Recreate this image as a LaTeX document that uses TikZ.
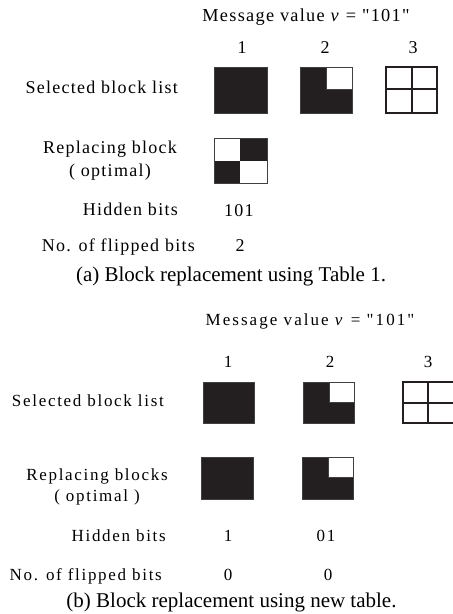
\documentclass[tikz,border=0pt]{standalone}
\usepackage{fontspec}
\setmainfont{Liberation Serif}
\newfontfamily\trackA[LetterSpace=7]{Liberation Serif}
\newfontfamily\trackB[LetterSpace=10]{Liberation Serif}
\newfontfamily\trackC[LetterSpace=12]{Liberation Serif}
\definecolor{blk}{RGB}{35,31,32}
\tikzset{
  lblA/.style={font=\fontsize{18}{23}\trackA, inner sep=0pt, anchor=mid east},
  lblB/.style={font=\fontsize{17}{22}\trackB, inner sep=0pt, anchor=mid east},
  txtA/.style={font=\fontsize{18}{23}\trackA, inner sep=0pt, anchor=mid},
  txtB/.style={font=\fontsize{17}{22}\trackB, inner sep=0pt, anchor=mid},
  capt/.style={font=\fontsize{21}{24}\selectfont, inner sep=0pt, anchor=mid},
  solid block/.style={fill=blk, draw=black!75, line width=0.6pt},
  white cell/.style={fill=white, draw=black!75, line width=0.6pt},
  grid line/.style={draw=blk, line width=1.2pt},
}
\begin{document}
\begin{tikzpicture}[x=1pt,y=-1pt]
\useasboundingbox (0,0) rectangle (453,614);
% ---------- panel (a) ----------
\node[font=\fontsize{18.3}{23}\trackA, inner sep=0pt, anchor=mid] (ma) at (306,19) {Message value \textit{v} = "101"};
\node[txtA] (na1) at (242,51) {1};
\node[txtA] (na2) at (325,51) {2};
\node[txtA] (na3) at (413,51) {3};
\node[lblA] (sa) at (178,91) {Selected block list};
\node[font=\fontsize{18}{23}\trackA, inner sep=0pt, align=center] (ra) at (110,161) {Replacing block\\( optimal)};
\node[lblA] (ha) at (178,213) {Hidden bits};
\node[txtA] (hva) at (239,214) {101};
\node[lblA] (fa) at (195,249) {No. of flipped bits};
\node[txtA] (fva) at (240,249) {2};
\node[capt] (ca) at (231,279) {(a) Block replacement using Table 1.};
% blocks
\filldraw[solid block] (214,67) rectangle (267,113);
\filldraw[solid block] (300,67) rectangle (352,113);
\filldraw[white cell] (326,67) rectangle (352,89);
\draw[grid line] (386,67) rectangle (437,113);
\draw[grid line] (412,67) -- (412,113) (386,89) -- (437,89);
\filldraw[white cell] (214,138) rectangle (267,183);
\fill[blk] (240,138) rectangle (267,160.5);
\fill[blk] (214,160.5) rectangle (240,183);
\draw[black!75, line width=0.6pt] (214,138) rectangle (267,183);
% ---------- panel (b) ----------
\node[font=\fontsize{17}{22}\trackC, inner sep=0pt, anchor=mid] (mb) at (310,323) {Message value \textit{v} = "101"};
\node[txtB] (nb1) at (228,365) {1};
\node[txtB] (nb2) at (330,365) {2};
\node[txtB] (nb3) at (428,365) {3};
\node[lblB] (sb) at (164,404) {Selected block list};
\node[font=\fontsize{17}{21}\trackB, inner sep=0pt, align=center] (rb) at (97,487) {Replacing blocks\\( optimal )};
\node[lblB] (hb) at (166,539) {Hidden bits};
\node[txtB] (hvb1) at (228,539) {1};
\node[txtB] (hvb2) at (326,539) {01};
\node[lblB] (fb) at (162,578) {No. of flipped bits};
\node[txtB] (fvb1) at (228,578) {0};
\node[txtB] (fvb2) at (328,578) {0};
\node[capt] (cb) at (231.5,605) {(b) Block replacement using new table.};
% blocks
\filldraw[solid block] (203,382) rectangle (254,423);
\filldraw[solid block] (303,382) rectangle (354,423);
\filldraw[white cell] (329,382) rectangle (354,402);
\draw[grid line] (403,382) rectangle (454,423);
\draw[grid line] (428,382) -- (428,423) (403,403) -- (454,403);
\filldraw[solid block] (201,457) rectangle (253,499);
\filldraw[solid block] (302,457) rectangle (353,499);
\filldraw[white cell] (328,457) rectangle (353,477);
\end{tikzpicture}
\end{document}
